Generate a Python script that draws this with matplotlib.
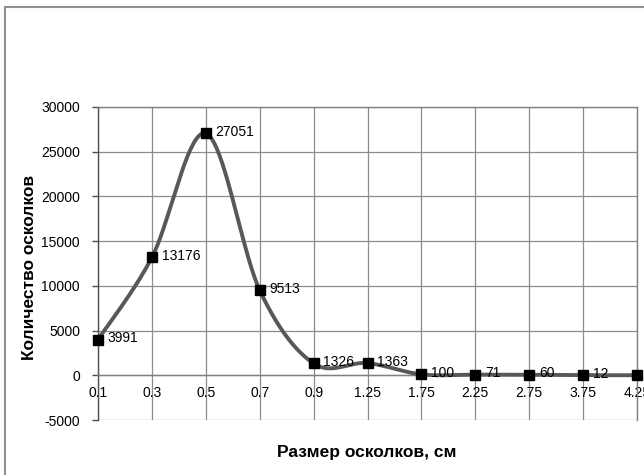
import numpy as np
import matplotlib
matplotlib.use("Agg")
import matplotlib.pyplot as plt
from matplotlib.patches import Rectangle

categories = ["0.1", "0.3", "0.5", "0.7", "0.9", "1.25", "1.75", "2.25", "2.75", "3.75", "4.25"]
counts = [3991, 13176, 27051, 9513, 1326, 1363, 100, 71, 60, 12, 6]
y_ticks = [-5000, 0, 5000, 10000, 15000, 20000, 25000, 30000]

plt.rcParams['font.family'] = ['Liberation Sans', 'DejaVu Sans']

fig = plt.figure(figsize=(6.44, 4.75), dpi=100)
ax = fig.add_axes([98/644, 1-420/475, (637-98)/644, (420-107)/475])

xs = np.arange(len(categories), dtype=float)
ys = np.array(counts, dtype=float)

# Excel-like smoothed line (Bezier through data points)
def bezier_curve(x, y, n=40):
    px = np.concatenate([[x[0]], x, [x[-1]]])
    py = np.concatenate([[y[0]], y, [y[-1]]])
    cx, cy = [], []
    t = np.linspace(0, 1, n)
    for i in range(1, len(px) - 2):
        p0 = np.array([px[i], py[i]])
        p3 = np.array([px[i+1], py[i+1]])
        p1 = p0 + (np.array([px[i+1], py[i+1]]) - np.array([px[i-1], py[i-1]])) / 6
        p2 = p3 - (np.array([px[i+2], py[i+2]]) - np.array([px[i], py[i]])) / 6
        seg = ((1-t)**3)[:, None]*p0 + (3*(1-t)**2*t)[:, None]*p1 + (3*(1-t)*t**2)[:, None]*p2 + (t**3)[:, None]*p3
        cx.extend(seg[:, 0]); cy.extend(seg[:, 1])
    return np.array(cx), np.array(cy)

sx, sy = bezier_curve(xs, ys)
ax.plot(sx, sy, color='#585858', lw=2.8, solid_capstyle='round', zorder=3, clip_on=False)
ax.plot(xs, ys, linestyle='none', marker='s', markersize=7.4, color='black', zorder=4, clip_on=False)

for x, v in zip(xs, counts):
    ax.annotate(str(v), (x, v), xytext=(7, 1), textcoords='offset points',
                ha='left', va='center', fontsize=10, color='black', zorder=5,
                annotation_clip=False)

ax.set_xlim(0, len(categories) - 1)
ax.set_ylim(-5000, 30000)
ax.set_yticks(y_ticks)
ax.set_yticklabels([str(t) for t in y_ticks], fontsize=10)
ax.set_xticks(xs)
ax.set_xticklabels(categories, fontsize=10)

ax.spines['bottom'].set_position(('data', 0))
ax.spines['bottom'].set_color('#808080')
ax.spines['bottom'].set_linewidth(1.0)
for s in ['top', 'right']:
    ax.spines[s].set_color('#808080')
    ax.spines[s].set_linewidth(1.0)
ax.spines['left'].set_color('#505050')
ax.spines['left'].set_linewidth(1.0)

ax.tick_params(axis='y', length=4, width=1, color='#505050', pad=9)
ax.tick_params(axis='x', length=0, pad=8)

ax.grid(True, color='#8c8c8c', linewidth=0.9)
ax.set_axisbelow(True)

fig.text(30/644, 1-267/475, 'Количество осколков', rotation=90, ha='center', va='center',
         fontsize=12.5, fontweight='bold')
fig.text(367/644, 1-452/475, 'Размер осколков, см', ha='center', va='center',
         fontsize=12.5, fontweight='bold')

frame = Rectangle((5/644, -0.1), 1.2, 1-7/475+0.1, transform=fig.transFigure,
                  fill=False, edgecolor='#909090', linewidth=1.5)
fig.patches.append(frame)

fig.savefig('out.png', dpi=100)
